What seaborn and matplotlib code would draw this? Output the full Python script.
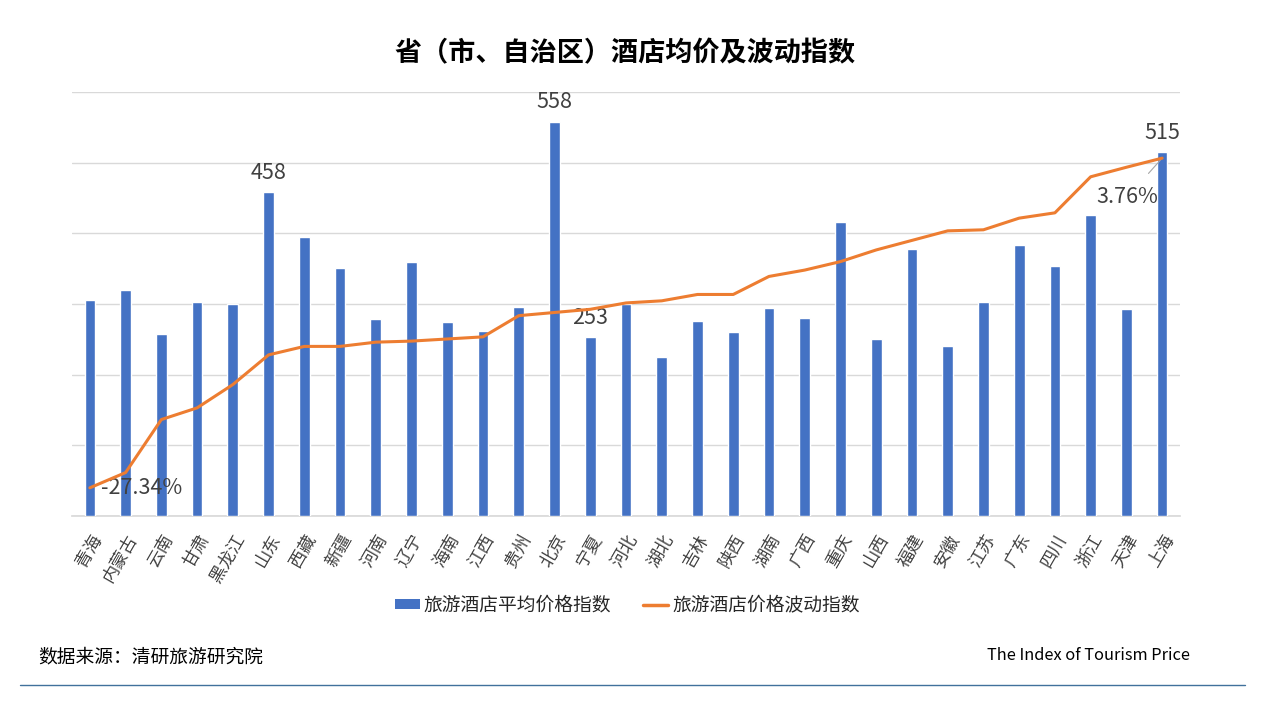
import numpy as np
import pandas as pd
import matplotlib
matplotlib.use("Agg")
import matplotlib.pyplot as plt
from matplotlib.patches import Patch
from matplotlib.lines import Line2D
import seaborn as sns

# Data
provinces = ["青海", "内蒙古", "云南", "甘肃", "黑龙江", "山东", "西藏", "新疆", "河南", "辽宁",
             "海南", "江西", "贵州", "北京", "宁夏", "河北", "湖北", "吉林", "陕西", "湖南",
             "广西", "重庆", "山西", "福建", "安徽", "江苏", "广东", "四川", "浙江", "天津", "上海"]
avg_price_index = [305, 320, 257, 303, 300, 458, 395, 351, 279, 359,
                   274, 262, 296, 558, 253, 300, 225, 276, 260, 294,
                   280, 416, 250, 378, 240, 303, 383, 354, 426, 293, 515]
fluct_index = [-27.34, -25.9, -20.9, -19.8, -17.6, -14.8, -14.0, -14.0, -13.6, -13.5,
               -13.3, -13.1, -11.1, -10.8, -10.5, -9.9, -9.7, -9.1, -9.1, -7.4,
               -6.8, -6.0, -4.9, -4.0, -3.1, -3.0, -1.9, -1.4, 2.0, 2.9, 3.76]
bar_labels = ["山东", "北京", "宁夏", "上海"]

df = pd.DataFrame({"province": provinces, "avg": avg_price_index, "fluct": fluct_index})
df["pos"] = np.arange(len(df))

sns.set_theme(style="white")
plt.rcParams["font.family"] = ["Noto Sans CJK SC", "DejaVu Sans"]
plt.rcParams["axes.unicode_minus"] = False

blue = "#4472C4"
orange = "#ED7D31"
grid = "#D9D9D9"
text_gray = "#404040"

fig = plt.figure(figsize=(12.8, 7.2), dpi=100)
ax = fig.add_axes([72 / 1280, 1 - 516 / 720, (1180 - 72) / 1280, (516 - 92) / 720])

sns.barplot(data=df, x="province", y="avg", color=blue, width=0.3,
            saturation=1, ax=ax, zorder=3)
ax.set_ylim(0, 600)
ax.set_xlim(-0.5, len(df) - 0.5)
ax.set_yticks(np.arange(0, 601, 100))
ax.yaxis.grid(True, color=grid, linewidth=1, zorder=0)
ax.set_axisbelow(True)
ax.set_xlabel("")
ax.set_ylabel("")
for s in ["top", "right", "left"]:
    ax.spines[s].set_visible(False)
ax.spines["bottom"].set_color(grid)

# data labels on selected bars
for name in bar_labels:
    row = df[df["province"] == name].iloc[0]
    ax.annotate(str(row["avg"]), (row["pos"], row["avg"]), xytext=(0, 6),
                textcoords="offset points", ha="center", va="bottom",
                fontsize=15.5, color=text_gray, zorder=5)

ax2 = ax.twinx()
sns.lineplot(data=df, x="pos", y="fluct", color=orange, linewidth=2.2,
             sort=False, ax=ax2, zorder=4)
ax2.set_ylim(-30, 10)
ax2.set_xlim(-0.5, len(df) - 0.5)
ax2.axis("off")

# twinx turns the left ticks back on
ax.tick_params(axis="y", left=False, right=False, labelleft=False, labelright=False)
ax.tick_params(axis="x", bottom=False, pad=5)
plt.setp(ax.get_xticklabels(), rotation=60, ha="right", rotation_mode="anchor",
         fontsize=12.5, color=text_gray)

first = df.iloc[0]
ax2.annotate(f"{first['fluct']:.2f}%", (first["pos"], first["fluct"]), xytext=(8, 0),
             textcoords="offset points", ha="left", va="center",
             fontsize=15.5, color=text_gray)
last = df.iloc[-1]
ax2.annotate(f"{last['fluct']:.2f}%", (last["pos"], last["fluct"]), xytext=(-25, -28),
             textcoords="offset points", ha="center", va="center",
             fontsize=15.5, color=text_gray,
             arrowprops=dict(arrowstyle="-", color="#A6A6A6", linewidth=0.8,
                             shrinkA=9, shrinkB=2))

fig.text(625 / 1280, 1 - 53 / 720, "省（市、自治区）酒店均价及波动指数", ha="center", va="center",
         fontsize=19.5, fontweight="bold", color="black")

handles = [Patch(facecolor=blue, edgecolor="none"),
           Line2D([0], [0], color=orange, linewidth=2.5)]
fig.legend(handles, ["旅游酒店平均价格指数", "旅游酒店价格波动指数"],
           loc="center", bbox_to_anchor=(627 / 1280, 1 - 605 / 720), ncol=2, frameon=False,
           fontsize=13.5, handlelength=1.35, handleheight=0.45, handletextpad=0.2,
           columnspacing=1.7, labelcolor="#262626")

fig.text(38 / 1280, 1 - 657 / 720, "数据来源：清研旅游研究院", ha="left", va="center",
         fontsize=13.5, color="black")
fig.text(1190 / 1280, 1 - 656 / 720, "The Index of Tourism Price", ha="right", va="center",
         fontsize=11.8, color="black")

fig.add_artist(Line2D([20 / 1280, 1245 / 1280], [1 - 685 / 720, 1 - 685 / 720],
                      color="#41719C", linewidth=1))

fig.savefig("out.png", dpi=100)
